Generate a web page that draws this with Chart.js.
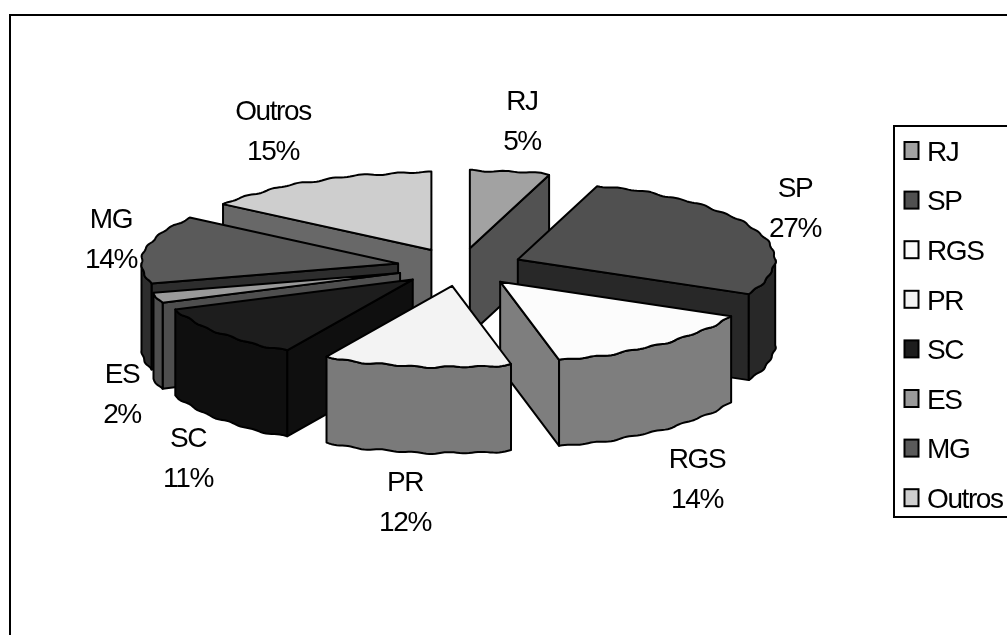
<!DOCTYPE html>
<html>
<head>
<meta charset="utf-8">
<style>
  html, body { margin: 0; padding: 0; background: #fff; overflow: hidden; }
  #wrap { position: relative; width: 1007px; height: 635px; }
</style>
<script src="https://cdn.jsdelivr.net/npm/chart.js@4/dist/chart.umd.min.js"></script>
</head>
<body>
<div id="wrap"><canvas id="chart" width="1007" height="635"></canvas></div>
<script>
// Share of each state, in percent, clockwise from twelve o'clock
const states = ['RJ', 'SP', 'RGS', 'PR', 'SC', 'ES', 'MG', 'Outros'];
const shares = [5, 27, 14, 12, 11, 2, 14, 15];
const topColors = ['#a2a2a2', '#505050', '#fcfcfc', '#f3f3f3', '#1d1d1d', '#9a9a9a', '#5a5a5a', '#cecece'];
const wallColors = ['#525252', '#282828', '#7e7e7e', '#7a7a7a', '#0f0f0f', '#4e4e4e', '#2d2d2d', '#686868'];

// Back-to-front painting sequence of the slices
const paintOrder = [0, 7, 1, 6, 5, 4, 2, 3];

// Label centres relative to the pie centre
const labelOffsets = [[62, -147], [335, -60], [237, 211], [-55, 234], [-272, 190], [-338, 126], [-349, -29], [-187, -137]];

const TILT_BACK = 0.302;   // vertical squash of the far half of the pie plane
const TILT_FRONT = 0.316;  // the near half reads slightly deeper
const DEPTH = 86;          // extrusion height
const FONT = '28px "Liberation Sans", Arial, sans-serif';
const TRACKING = '-1.4px';

function rimWobble(a) {
  return 0.7 * Math.sin(a * 47) + 0.45 * Math.sin(a * 23 + 1);
}

// Near rim leans a little toward the left, as a mild perspective cue
function nearLean(a) {
  const s = Math.sin(a);
  return s > 0 ? 5 * Math.sin(a * 1.3) * Math.sqrt(s) : 0;
}

function sliceGeometry(arc) {
  const r = arc.outerRadius;
  const off = arc.options.offset;
  const mid = (arc.startAngle + arc.endAngle) / 2;
  const ox = arc.x + off * Math.cos(mid);
  const oy = arc.y + TILT_BACK * off * Math.sin(mid);
  const at = (a) => {
    const w = rimWobble(a);
    const s = Math.sin(a);
    const tilt = s > 0 ? TILT_FRONT : TILT_BACK;
    return [ox + (r + w) * Math.cos(a) - nearLean(a), oy + tilt * r * s + w * s];
  };
  return { ox, oy, at };
}

function rimPoints(at, from, to) {
  const n = Math.max(2, Math.ceil((to - from) / 0.012));
  const pts = [];
  for (let i = 0; i <= n; i++) pts.push(at(from + (to - from) * i / n));
  return pts;
}

function fillPoly(ctx, pts, color) {
  ctx.beginPath();
  pts.forEach((p, i) => (i ? ctx.lineTo(p[0], p[1]) : ctx.moveTo(p[0], p[1])));
  ctx.closePath();
  ctx.fillStyle = color;
  ctx.fill();
  ctx.stroke();
}

const down = (p) => [p[0], p[1] + DEPTH];

function drawSlice(ctx, arc, top, wall) {
  const { ox, oy, at } = sliceGeometry(arc);
  const s = arc.startAngle, e = arc.endAngle;
  const tip = [ox, oy];

  // Cut faces that look toward the viewer
  if (Math.cos(s) < -1e-6) fillPoly(ctx, [tip, at(s), down(at(s)), down(tip)], wall);
  if (Math.cos(e) > 1e-6) fillPoly(ctx, [tip, at(e), down(at(e)), down(tip)], wall);

  // Curved outer wall, front half of the circle only
  const from = Math.max(s, 0), to = Math.min(e, Math.PI);
  if (to > from) {
    const rim = rimPoints(at, from, to);
    fillPoly(ctx, rim.concat(rim.slice().reverse().map(down)), wall);
  }

  // Top face
  fillPoly(ctx, [tip].concat(rimPoints(at, s, e)), top);
}

const piePainter = {
  id: 'piePainter',
  beforeDatasetDraw() { return false; },
  afterDatasetsDraw(chart) {
    const ctx = chart.ctx;
    const arcs = chart.getDatasetMeta(0).data;
    ctx.save();
    ctx.strokeStyle = '#000';
    ctx.lineWidth = 2;
    ctx.lineJoin = 'round';
    paintOrder.forEach((i) => drawSlice(ctx, arcs[i], topColors[i], wallColors[i]));
    ctx.restore();
  },
  afterDraw(chart) {
    const ctx = chart.ctx;
    const arcs = chart.getDatasetMeta(0).data;
    ctx.save();
    ctx.font = FONT;
    ctx.letterSpacing = TRACKING;
    ctx.fillStyle = '#000';
    ctx.textAlign = 'center';
    ctx.textBaseline = 'middle';
    states.forEach((name, i) => {
      const x = arcs[0].x + labelOffsets[i][0];
      const y = arcs[0].y + labelOffsets[i][1] + 2;
      ctx.fillText(name, x, y - 20);
      ctx.fillText(shares[i] + '%', x, y + 20);
    });

    // Outer frame runs off the right and bottom of the page
    ctx.strokeStyle = '#000';
    ctx.lineWidth = 2;
    ctx.strokeRect(10, 15, 1100, 700);

    // Legend panel
    ctx.fillStyle = '#fff';
    ctx.fillRect(894, 126, 140, 391);
    ctx.strokeRect(894, 126, 140, 391);
    ctx.textAlign = 'left';
    states.forEach((name, i) => {
      const y = 151 + i * 49.6;
      ctx.fillStyle = topColors[i];
      ctx.fillRect(904.5, y - 9, 14, 17);
      ctx.strokeRect(904.5, y - 9, 14, 17);
      ctx.fillStyle = '#000';
      ctx.fillText(name, 927, y + 2);
    });
    ctx.restore();
  }
};

new Chart(document.getElementById('chart'), {
  type: 'pie',
  data: {
    labels: states,
    datasets: [{ data: shares, backgroundColor: topColors, offset: 63, borderWidth: 0 }]
  },
  options: {
    responsive: false,
    animation: false,
    radius: 257,
    layout: { padding: { right: 87, bottom: 101 } },
    plugins: { legend: { display: false }, tooltip: { enabled: false } }
  },
  plugins: [piePainter]
});
</script>
</body>
</html>
